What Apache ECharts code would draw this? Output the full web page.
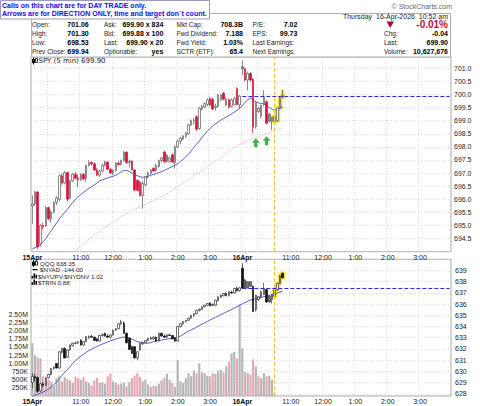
<!DOCTYPE html>
<html>
<head>
<meta charset="utf-8">
<title>SPY 5 min</title>
<script src="https://cdn.jsdelivr.net/npm/echarts@6.0.0/dist/echarts.min.js"></script>
<style>
  html, body { margin: 0; padding: 0; background: #fff; }
  #chart { width: 480px; height: 406px; }
</style>
</head>
<body>
<div id="chart"></div>
<script>
// ---- data ----
const days = ['15Apr', '16Apr'];

const spyOpen = [
  695.75, 695.82, 696.28, 694.30, 695.00, 694.98, 695.68, 695.26, 695.52, 695.88,
  696.00, 696.90, 696.62, 697.02, 696.05, 696.70, 696.95, 696.80, 696.75, 696.95,
  696.78, 697.30, 697.40, 697.35, 697.12, 696.92, 697.08, 697.30, 697.42, 697.15,
  697.00, 697.10, 697.38, 697.33, 697.48, 697.80, 697.40, 697.45, 697.12, 696.72,
  696.65, 696.15, 696.55, 696.85, 697.00, 697.18, 697.10, 697.25, 697.48, 697.80,
  697.68, 697.45, 697.70, 697.40, 698.00, 698.22, 698.30, 698.40, 698.50, 698.84,
  699.00, 699.15, 698.70, 699.45, 699.52, 699.62, 699.85, 699.82, 699.50, 699.55,
  699.80, 700.05, 699.60, 699.80, 699.55, 699.62, 700.22, 699.60,
  701.06, 700.98, 700.55, 700.80, 700.58, 698.78, 699.35, 699.18, 699.60, 699.72,
  699.25, 698.98, 698.98, 699.00, 699.48, 699.95
];
const spyHigh = [
  696.15, 696.32, 696.30, 695.05, 695.10, 695.75, 695.72, 695.58, 695.92, 696.12,
  696.95, 696.98, 697.08, 697.05, 696.75, 697.00, 697.05, 696.95, 697.00, 697.00,
  697.32, 697.48, 697.45, 697.42, 697.20, 697.12, 697.35, 697.48, 697.45, 697.20,
  697.15, 697.42, 697.45, 697.52, 697.85, 697.82, 697.52, 697.48, 697.15, 696.76,
  696.70, 696.70, 696.90, 697.05, 697.15, 697.22, 697.35, 697.52, 697.62, 697.85,
  697.72, 697.62, 697.75, 698.05, 698.28, 698.38, 698.45, 698.58, 698.88, 699.05,
  699.10, 699.20, 699.52, 699.60, 699.70, 699.85, 699.90, 699.88, 699.65, 700.02,
  700.02, 700.10, 699.88, 699.85, 699.85, 699.90, 700.28, 699.98,
  701.30, 701.02, 700.88, 700.85, 700.62, 699.75, 699.52, 699.62, 700.17, 699.78,
  699.30, 699.15, 699.20, 699.50, 699.90, 700.17
];
const spyLow = [
  695.07, 695.75, 694.11, 694.20, 694.85, 694.95, 695.20, 695.10, 695.45, 695.78,
  695.92, 696.55, 696.58, 695.92, 696.00, 696.65, 696.75, 696.47, 696.70, 696.72,
  696.66, 697.25, 697.28, 697.08, 696.88, 696.85, 697.02, 697.25, 697.10, 696.95,
  696.92, 697.05, 697.28, 697.30, 697.44, 697.35, 697.22, 697.10, 696.30, 696.30,
  696.10, 695.64, 696.50, 696.80, 696.95, 697.05, 697.05, 697.20, 697.40, 697.40,
  697.40, 697.40, 697.38, 697.17, 697.95, 698.10, 698.25, 698.35, 698.45, 698.80,
  698.85, 698.60, 698.65, 699.38, 699.48, 699.55, 699.55, 699.40, 699.38, 699.50,
  699.75, 699.78, 699.55, 699.45, 699.50, 699.58, 699.58, 699.45,
  700.74, 700.50, 700.15, 700.48, 698.53, 698.70, 699.30, 699.10, 699.55, 698.85,
  698.92, 698.64, 698.90, 698.96, 699.44, 699.84
];
const spyClose = [
  695.82, 696.28, 694.18, 695.00, 694.95, 695.68, 695.26, 695.52, 695.88, 696.05,
  696.90, 696.62, 697.02, 696.00, 696.70, 696.95, 696.80, 696.75, 696.95, 696.78,
  697.30, 697.40, 697.35, 697.12, 696.92, 697.08, 697.30, 697.42, 697.15, 697.00,
  697.10, 697.38, 697.33, 697.48, 697.80, 697.40, 697.45, 697.12, 696.35, 696.34,
  696.15, 696.60, 696.85, 697.00, 697.12, 697.08, 697.30, 697.48, 697.58, 697.43,
  697.45, 697.58, 697.42, 698.00, 698.22, 698.33, 698.42, 698.52, 698.84, 699.00,
  699.03, 698.68, 699.48, 699.55, 699.65, 699.80, 699.60, 699.45, 699.55, 699.98,
  699.98, 699.82, 699.82, 699.52, 699.80, 699.85, 699.62, 699.94,
  700.98, 700.55, 700.80, 700.55, 698.75, 699.70, 699.47, 699.58, 699.90, 698.90,
  698.98, 699.12, 699.16, 699.48, 699.86, 699.90
];
const spyAvgFast = [
  694.10, 694.16, 694.20, 694.26, 694.38, 694.50, 694.65, 694.80, 694.95, 695.10,
  695.25, 695.38, 695.50, 695.62, 695.75, 695.88, 696.00, 696.10, 696.18, 696.26,
  696.34, 696.42, 696.48, 696.55, 696.62, 696.70, 696.74, 696.78, 696.82, 696.85,
  696.88, 696.92, 696.98, 697.05, 697.10, 697.10, 697.06, 697.00, 696.94, 696.90,
  696.86, 696.84, 696.85, 696.88, 696.92, 696.95, 696.98, 697.02, 697.06, 697.10,
  697.15, 697.20, 697.25, 697.30, 697.36, 697.44, 697.53, 697.62, 697.72, 697.85,
  697.98, 698.10, 698.22, 698.36, 698.48, 698.60, 698.70, 698.80, 698.88, 698.95,
  699.02, 699.08, 699.14, 699.20, 699.26, 699.33, 699.40, 699.47,
  699.58, 699.70, 699.80, 699.86, 699.80, 699.72, 699.68, 699.66, 699.64, 699.58,
  699.50, 699.44, 699.40, 699.42, 699.48, 699.52
];
const spyAvgSlow = [
  '-', '-', '-', '-', '-', '-', '-', '-', '-', '-',
  '-', '-', 693.72, 693.80, 693.88, 693.96, 694.04, 694.12, 694.20, 694.29,
  694.38, 694.46, 694.55, 694.64, 694.72, 694.80, 694.87, 694.93, 695.00, 695.07,
  695.13, 695.20, 695.26, 695.33, 695.40, 695.46, 695.52, 695.58, 695.63, 695.67,
  695.72, 695.76, 695.80, 695.85, 695.90, 695.95, 696.00, 696.05, 696.10, 696.15,
  696.21, 696.28, 696.35, 696.42, 696.49, 696.56, 696.63, 696.70, 696.77, 696.84,
  696.91, 696.97, 697.03, 697.10, 697.17, 697.24, 697.31, 697.38, 697.45, 697.52,
  697.60, 697.67, 697.75, 697.82, 697.90, 697.98, 698.05, 698.10,
  698.15, 698.19, 698.23, 698.27, 698.31, 698.35, 698.39, 698.43, 698.47, 698.51,
  698.55, 698.59, 698.62, 698.66, 698.70, 698.73
];

const qqqOpen = [
  629.00, 629.55, 629.45, 628.25, 628.88, 628.75, 629.45, 629.72, 630.25, 630.70,
  630.30, 631.70, 632.05, 631.25, 631.90, 632.30, 632.50, 632.55, 632.80, 632.35,
  632.65, 633.00, 633.12, 633.05, 632.90, 632.70, 633.20, 633.40, 633.15, 633.05,
  633.25, 633.68, 633.80, 634.25, 634.30, 633.40, 632.95, 632.20, 632.20, 631.20,
  631.90, 632.45, 632.55, 632.75, 632.95, 632.90, 633.05, 632.70, 633.40, 633.15,
  633.05, 633.25, 633.20, 633.00, 632.70, 634.00, 634.25, 634.45, 634.55, 634.75,
  635.00, 635.15, 635.45, 635.55, 635.75, 635.90, 636.10, 635.98, 635.90, 636.30,
  636.60, 636.75, 636.95, 636.75, 637.05, 637.00, 637.40, 637.20,
  639.20, 638.15, 638.00, 638.00, 637.60, 635.50, 636.40, 636.60, 636.85, 637.30,
  636.70, 636.40, 636.70, 637.30, 637.85, 638.75
];
const qqqHigh = [
  629.85, 629.75, 629.55, 628.95, 629.05, 629.50, 629.80, 630.30, 630.45, 630.75,
  631.80, 632.10, 632.15, 632.00, 632.40, 632.55, 632.65, 632.70, 632.85, 632.70,
  633.15, 633.20, 633.25, 633.10, 632.95, 633.25, 633.40, 633.45, 633.30, 633.30,
  633.72, 633.85, 634.30, 634.60, 634.45, 633.45, 633.00, 632.30, 632.25, 631.80,
  632.55, 632.65, 632.80, 633.00, 633.10, 633.15, 633.10, 633.45, 633.45, 633.30,
  633.30, 633.35, 633.25, 633.05, 634.05, 634.30, 634.50, 634.60, 634.80, 635.05,
  635.20, 635.50, 635.60, 635.80, 635.95, 636.10, 636.15, 636.05, 636.40, 636.70,
  636.85, 637.00, 637.05, 637.15, 637.20, 637.45, 637.55, 637.50,
  639.65, 638.25, 638.05, 638.05, 637.65, 636.85, 636.70, 637.20, 637.90, 637.35,
  636.75, 636.85, 637.30, 637.90, 638.60, 638.80
];
const qqqLow = [
  628.45, 629.10, 628.10, 628.15, 628.60, 628.70, 629.35, 629.65, 630.15, 630.25,
  630.25, 631.60, 631.15, 631.20, 631.85, 632.20, 632.40, 632.45, 632.30, 632.30,
  632.60, 632.90, 633.00, 632.70, 632.65, 632.65, 633.10, 633.10, 633.00, 632.95,
  633.20, 633.60, 633.75, 634.10, 633.35, 632.50, 631.90, 631.55, 631.15, 631.00,
  631.85, 632.35, 632.50, 632.70, 632.85, 632.80, 632.65, 632.65, 633.10, 633.00,
  633.00, 633.15, 632.85, 632.60, 632.65, 633.90, 634.15, 634.35, 634.50, 634.70,
  634.85, 635.10, 635.35, 635.50, 635.70, 635.80, 635.80, 635.85, 635.85, 636.25,
  636.55, 636.70, 636.70, 636.70, 636.90, 636.95, 637.10, 637.10,
  637.40, 637.40, 637.40, 637.50, 635.30, 635.35, 636.30, 636.50, 636.80, 636.10,
  636.10, 636.05, 636.60, 637.20, 637.80, 638.30
];
const qqqClose = [
  629.55, 629.40, 628.22, 628.88, 628.75, 629.45, 629.72, 630.25, 630.35, 630.30,
  631.75, 632.05, 631.20, 631.90, 632.35, 632.50, 632.55, 632.62, 632.35, 632.65,
  633.10, 633.12, 633.05, 632.75, 632.70, 633.20, 633.30, 633.15, 633.05, 633.25,
  633.68, 633.80, 634.25, 634.42, 633.40, 632.55, 631.95, 631.60, 631.20, 631.75,
  632.50, 632.55, 632.75, 632.95, 632.90, 633.05, 632.70, 633.40, 633.15, 633.05,
  633.25, 633.20, 632.90, 632.70, 634.00, 634.25, 634.45, 634.55, 634.75, 635.00,
  635.15, 635.45, 635.55, 635.75, 635.90, 636.05, 635.85, 635.90, 636.35, 636.65,
  636.80, 636.95, 636.75, 637.10, 637.00, 637.40, 637.20, 637.45,
  637.42, 637.45, 637.45, 637.60, 635.35, 636.80, 636.65, 637.10, 637.40, 636.20,
  636.20, 636.80, 637.25, 637.85, 638.55, 638.35
];
const qqqAvg = [
  627.78, 627.88, 627.96, 628.05, 628.15, 628.28, 628.42, 628.60, 628.80, 629.05,
  629.35, 629.65, 629.90, 630.15, 630.42, 630.70, 630.95, 631.15, 631.35, 631.52,
  631.70, 631.85, 631.98, 632.10, 632.22, 632.33, 632.43, 632.52, 632.62, 632.72,
  632.80, 632.88, 632.95, 633.02, 633.06, 633.04, 632.98, 632.88, 632.76, 632.66,
  632.60, 632.55, 632.52, 632.52, 632.56, 632.64, 632.70, 632.76, 632.80, 632.84,
  632.88, 632.92, 632.95, 632.98, 633.05, 633.15, 633.30, 633.45, 633.58, 633.70,
  633.82, 633.95, 634.08, 634.20, 634.33, 634.46, 634.58, 634.70, 634.82, 634.94,
  635.06, 635.18, 635.30, 635.40, 635.52, 635.65, 635.78, 635.90,
  636.02, 636.14, 636.26, 636.36, 636.42, 636.48, 636.54, 636.60, 636.66, 636.72,
  636.78, 636.84, 636.90, 636.98, 637.08, 637.15
];
const volume = [
  1620000, 1250000, 1180000, 1150000, 600000, 450000, 500000, 420000, 300000, 550000,
  600000, 450000, 580000, 520000, 480000, 400000, 600000, 550000, 500000, 580000,
  450000, 400000, 320000, 480000, 550000, 400000, 420000, 380000, 600000, 680000,
  450000, 400000, 350000, 380000, 400000, 300000, 420000, 550000, 620000, 700000,
  580000, 450000, 500000, 350000, 280000, 320000, 300000, 380000, 480000, 550000,
  680000, 500000, 400000, 280000, 1100000, 450000, 400000, 550000, 700000, 600000,
  780000, 700000, 1000000, 720000, 700000, 620000, 600000, 700000, 680000, 780000,
  800000, 720000, 900000, 1050000, 1300000, 1350000, 1150000, 2800000,
  1460000, 740000, 700000, 650000, 1120000, 900000, 600000, 550000, 700000, 600000,
  620000, 500000, 90000, '-', '-', '-'
];

const spyPrevClose = 699.94;
const qqqPrevClose = 637.40;
const arrowBars = [83, 87];
const arrowPrices = [698.16, 698.23];
const markerBar = 90;       // yellow dashed time marker
const highlightFrom = 90;   // bars outlined in yellow

const noteLines = [
  'Calls on this chart are for DAY TRADE only.',
  'Arrows are for DIRECTION ONLY, time and target don`t count.'
];
const stampText = '\u00a9 StockCharts.com';
const dateText = 'Thursday  16-Apr-2026  10:52 am';
const quoteRows = [
  ['Open:', '701.06', 'Ask:', '699.90 x 834', 'Mkt Cap:', '708.3B', 'P/E:', '7.02'],
  ['High:', '701.30', 'Bid:', '699.88 x 100', 'Fwd Dividend:', '7.188', 'EPS:', '99.73'],
  ['Low:', '698.53', 'Last:', '699.90 x 20', 'Fwd Yield:', '1.03%', 'Last Earnings:', ''],
  ['Prev Close:', '699.94', 'Optionable:', 'yes', 'SCTR (ETF):', '65.4', 'Next Earnings:', '']
];
const changeRows = [['', '-0.01%'], ['Chg:', '-0.04'], ['Last:', '699.90'], ['Volume:', '10,627,676']];
const topLegend = 'SPY (5 min) 699.90';
const lowerLegend = ['QQQ 638.35', '$NYAD -144.00', '$NYUPV:$NYDNV 1.02', '$TRIN 0.88'];

// ---- categories: 5 minute slots for both sessions ----
const slots = [];
for (let m = 9 * 60 + 30; m < 16 * 60; m += 5) {
  slots.push(String(Math.floor(m / 60)).padStart(2, '0') + ':' + String(m % 60).padStart(2, '0'));
}
const categories = [];
days.forEach(d => slots.forEach(t => categories.push(d + ' ' + t)));

const FONT = '"Liberation Sans", Arial, sans-serif';
const RED = '#d3123c';
const YELLOW = '#efe03a';

function candleData(open, high, low, close, edgeUp, edgeDown, flatFill) {
  return open.map((o, i) => {
    const c = close[i];
    const prev = i > 0 ? close[i - 1] : o;
    const edge = c < prev ? edgeDown : edgeUp;
    const fill = c > o ? '#ffffff' : (c < prev ? edgeDown : flatFill);
    return {
      value: [o, c, low[i], high[i]],
      itemStyle: { color: fill, color0: fill, borderColor: edge, borderColor0: edge }
    };
  });
}
function highlightData(open, high, low, close) {
  return open.map((o, i) => i >= highlightFrom ? [o, close[i], low[i], high[i]] : '-');
}

const isOpenSlot = v => v.slice(-5) === '09:30';
const isHour = v => v.slice(-3) === ':00';

function xAxisFor(grid) {
  return {
    type: 'category', gridIndex: grid, data: categories, boundaryGap: true,
    axisLine: { show: false }, axisTick: { show: false },
    axisLabel: {
      interval: (i, v) => isOpenSlot(v) || (isHour(v) && v.slice(-5) !== '10:00'),
      formatter: v => {
        const [d, hm] = v.split(' ');
        if (hm === '09:30') return '{d|' + d + '}';
        const h = Number(hm.slice(0, 2));
        return (h > 12 ? h - 12 : h) + ':00';
      },
      rich: { d: { fontWeight: 'bold', fontSize: 7, fontFamily: FONT, color: '#111' } },
      fontSize: 7, fontFamily: FONT, color: '#222', margin: 2
    },
    splitLine: {
      show: true,
      interval: (i, v) => isOpenSlot(v) || isHour(v),
      lineStyle: { color: '#d8d8d8', type: [1, 2], width: 1 }
    }
  };
}

// ---- header and legends ----
const graphics = [];
function text(x, y, s, extra) {
  graphics.push({
    type: 'text', x: x, y: y, silent: true, z: 100,
    style: Object.assign({ text: s, fill: '#000', font: '6.5px ' + FONT, align: 'left', verticalAlign: 'middle' }, extra || {})
  });
}
graphics.push({ type: 'rect', z: 90, silent: true, shape: { x: 31.5, y: 13.5, width: 419, height: 43.5 },
  style: { fill: '#fff', stroke: '#b0b0b0', lineWidth: 1 } });
graphics.push({ type: 'rect', z: 95, silent: true, shape: { x: 0.5, y: 0.5, width: 209, height: 18.5 },
  style: { fill: '#fff', stroke: '#9a9ab8', lineWidth: 1 } });
noteLines.forEach((s, k) => text(2, 5.6 + k * 7.4, s, { font: 'bold 7px ' + FONT, fill: '#1010e0' }));
text(452, 6.8, stampText, { align: 'right', fill: '#666', font: '7px ' + FONT });
text(448, 16, dateText, { align: 'right', fill: '#222', font: '7px ' + FONT });

const rowY = [24.8, 33.5, 42.4, 51.2];
const labelX = [32, 104, 176.5, 252.5];
const valueX = [88.7, 163.3, 243, 297.3];
quoteRows.forEach((row, r) => {
  for (let c = 0; c < 4; c++) {
    text(labelX[c], rowY[r], row[c * 2], { fill: '#222' });
    if (row[c * 2 + 1]) text(valueX[c], rowY[r], row[c * 2 + 1], { align: 'right', font: 'bold 7px ' + FONT });
  }
});
changeRows.forEach((row, r) => {
  if (row[0]) text(384, rowY[r], row[0], { fill: '#222' });
  if (r === 0) text(448, rowY[r] - 0.4, row[1], { align: 'right', font: 'bold 10px ' + FONT, fill: '#b3123a' });
  else text(448, rowY[r], row[1], { align: 'right', font: 'bold 7px ' + FONT });
});
graphics.push({ type: 'polygon', z: 100, silent: true,
  shape: { points: [[386.5, 21.5], [394, 21.5], [390.25, 28]] }, style: { fill: '#9e0f2c' } });

// legend icons
function candleIcon(x, y) {
  graphics.push({ type: 'line', z: 100, silent: true, shape: { x1: x + 1.5, y1: y - 3.5, x2: x + 1.5, y2: y + 3.5 }, style: { stroke: '#000', lineWidth: 1 } });
  graphics.push({ type: 'rect', z: 100, silent: true, shape: { x: x, y: y - 2, width: 3, height: 4 }, style: { fill: '#000' } });
  graphics.push({ type: 'rect', z: 100, silent: true, shape: { x: x + 3.5, y: y - 2.5, width: 2, height: 4 }, style: { fill: '#fff', stroke: '#000', lineWidth: 0.8 } });
}
function barIcon(x, y) {
  [[0, 2], [2, 4], [4, 3]].forEach(([dx, h]) => graphics.push({ type: 'rect', z: 100, silent: true,
    shape: { x: x + dx, y: y + 3 - h * 1.3, width: 1.5, height: h * 1.3 }, style: { fill: '#000' } }));
}
candleIcon(32, 61);
text(38.5, 61.2, topLegend, { font: '7px "DejaVu Sans", Verdana, sans-serif', fill: '#222' });
candleIcon(32, 263.7);
text(40, 263.8, lowerLegend[0], { font: '6.2px ' + FONT, fill: '#222' });
graphics.push({ type: 'line', z: 100, silent: true, shape: { x1: 32.5, y1: 269.6, x2: 37.5, y2: 269.6 }, style: { stroke: '#000', lineWidth: 1.2 } });
text(40, 269.8, lowerLegend[1], { font: '6.2px ' + FONT, fill: '#222' });
barIcon(31.5, 275.6);
text(38, 276.3, lowerLegend[2], { font: '6.2px ' + FONT, fill: '#222' });
barIcon(31.5, 281.8);
text(38, 282.4, lowerLegend[3], { font: '6.2px ' + FONT, fill: '#222' });

const arrowPath = 'path://M5,0 L10,5 L7,5 L7,10 L3,10 L3,5 L0,5 Z';
const volumeData = volume.map((v, i) => v === '-' ? '-' : {
  value: v,
  itemStyle: { color: i > 0 && spyClose[i] < spyClose[i - 1] ? '#e6a8b4' : '#b6b6b6' }
});

const option = {
  animation: false,
  backgroundColor: '#fff',
  textStyle: { fontFamily: FONT },
  graphic: graphics,
  grid: [
    { left: 31, right: 29, top: 57, height: 194.7, show: true, borderColor: '#a8a8a8', borderWidth: 1, backgroundColor: '#fff' },
    { left: 31, right: 29, top: 259.3, bottom: 10, show: true, borderColor: '#a8a8a8', borderWidth: 1, backgroundColor: '#fff' }
  ],
  xAxis: [xAxisFor(0), xAxisFor(1)],
  yAxis: [
    {
      type: 'value', gridIndex: 0, position: 'right', min: 694.0, max: 701.43, interval: 0.5, scale: true,
      axisLine: { show: false }, axisTick: { show: false },
      axisLabel: { fontSize: 7, fontFamily: FONT, color: '#222', margin: 3,
        formatter: v => (v < 694.4 || v > 701.2) ? '' : v.toFixed(1) },
      splitLine: { lineStyle: { color: '#d8d8d8', type: [1, 2] } }
    },
    {
      type: 'value', gridIndex: 1, position: 'right', min: 627.8, max: 640, splitNumber: 12, scale: true,
      axisLine: { show: false }, axisTick: { show: false },
      axisLabel: { fontSize: 7, fontFamily: FONT, color: '#222', margin: 4,
        formatter: v => (Math.abs(v - Math.round(v)) > 1e-6 || v < 628 || v > 639) ? '' : String(Math.round(v)) },
      splitLine: { lineStyle: { color: '#d8d8d8', type: [1, 2] } }
    },
    {
      type: 'value', gridIndex: 1, position: 'left', min: 0, max: 4180000, interval: 250000,
      axisLine: { show: false }, axisTick: { show: false }, splitLine: { show: false },
      axisLabel: { fontSize: 7, fontFamily: FONT, color: '#222', margin: 3, padding: [0, 0, 4, 0],
        formatter: v => (v === 0 || v > 2500000) ? '' : (v >= 1000000 ? (v / 1000000).toFixed(2) + 'M' : (v / 1000) + 'K') }
    }
  ],
  series: [
    { type: 'candlestick', xAxisIndex: 0, yAxisIndex: 0, z: 1, barWidth: 2,
      data: highlightData(spyOpen, spyHigh, spyLow, spyClose),
      itemStyle: { color: YELLOW, color0: YELLOW, borderColor: YELLOW, borderColor0: YELLOW, borderWidth: 3.5 } },
    { type: 'line', xAxisIndex: 0, yAxisIndex: 0, z: 2, data: spyAvgSlow, showSymbol: false, silent: true,
      lineStyle: { color: '#eaa3b4', width: 1, type: 'dotted' } },
    { type: 'line', xAxisIndex: 0, yAxisIndex: 0, z: 2, data: spyAvgFast, showSymbol: false, silent: true,
      lineStyle: { color: '#5a5acb', width: 1 } },
    { type: 'candlestick', xAxisIndex: 0, yAxisIndex: 0, z: 3, barWidth: 2,
      data: candleData(spyOpen, spyHigh, spyLow, spyClose, '#5a5a5a', RED, '#9a9a9a'),
      itemStyle: { borderWidth: 0.7 },
      markLine: {
        silent: true, symbol: 'none', label: { show: false },
        data: [
          { xAxis: categories[markerBar], lineStyle: { color: '#f4c430', type: 'dashed', width: 1 } },
          [{ coord: [categories[78], spyPrevClose], lineStyle: { color: '#2a2ae0', type: 'dashed', width: 1 } },
           { coord: [categories[155], spyPrevClose] }]
        ]
      } },
    { type: 'scatter', xAxisIndex: 0, yAxisIndex: 0, z: 4, silent: true,
      data: arrowBars.map((k, j) => [categories[k], arrowPrices[j]]),
      symbol: arrowPath, symbolSize: [8, 9], itemStyle: { color: '#149a1e' } },

    { type: 'bar', xAxisIndex: 1, yAxisIndex: 2, z: 1, barWidth: '80%', silent: true, data: volumeData },
    { type: 'candlestick', xAxisIndex: 1, yAxisIndex: 1, z: 2, barWidth: 2,
      data: highlightData(qqqOpen, qqqHigh, qqqLow, qqqClose),
      itemStyle: { color: YELLOW, color0: YELLOW, borderColor: YELLOW, borderColor0: YELLOW, borderWidth: 3.5 } },
    { type: 'line', xAxisIndex: 1, yAxisIndex: 1, z: 3, data: qqqAvg, showSymbol: false, silent: true,
      lineStyle: { color: '#5a5acb', width: 1 } },
    { type: 'candlestick', xAxisIndex: 1, yAxisIndex: 1, z: 4, barWidth: 2,
      data: candleData(qqqOpen, qqqHigh, qqqLow, qqqClose, '#333333', '#111111', '#808080'),
      itemStyle: { borderWidth: 0.7 },
      markLine: {
        silent: true, symbol: 'none', label: { show: false },
        data: [
          { xAxis: categories[markerBar], lineStyle: { color: '#f4c430', type: 'dashed', width: 1 } },
          [{ coord: [categories[78], qqqPrevClose], lineStyle: { color: '#2a2ae0', type: 'dashed', width: 1 } },
           { coord: [categories[155], qqqPrevClose] }]
        ]
      } }
  ]
};

const chart = echarts.init(document.getElementById('chart'), null, { renderer: 'svg' });
chart.setOption(option);
</script>
</body>
</html>
